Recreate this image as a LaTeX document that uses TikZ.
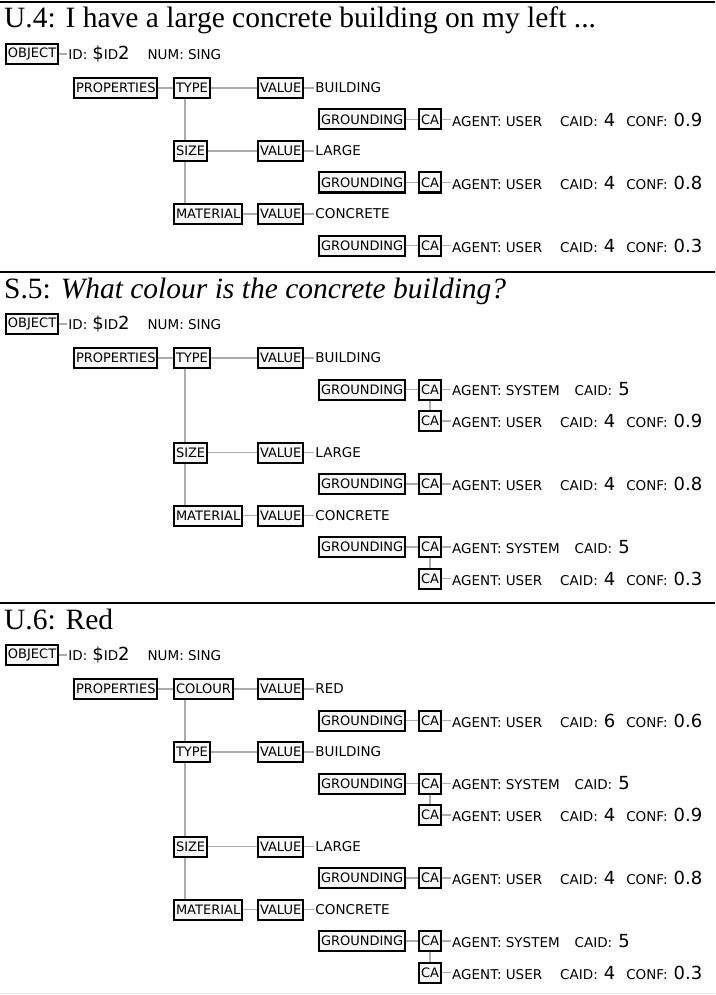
\documentclass[tikz,border=0pt]{standalone}
\usepackage{fontspec}
\setmainfont{DejaVu Sans}
\newfontfamily\titlefont{Liberation Serif}
\usetikzlibrary{positioning}

% small caps and large digits of the value texts
\newcommand{\smtx}[1]{{\fontsize{13.5}{15}\selectfont #1}}
\newcommand{\bgtx}[1]{{\fontsize{18}{20}\selectfont #1}}
\newcommand{\idtext}{\smtx{ID:}\hspace{5pt}\bgtx{\$}\smtx{ID}\bgtx{2}\hspace{18pt}\smtx{NUM: SING}}
\newcommand{\usertext}[2]{\smtx{AGENT: USER}\hspace{18pt}\smtx{CAID:}\hspace{6pt}\bgtx{#1}\hspace{11pt}\smtx{CONF:}\hspace{6pt}\bgtx{#2}}
\newcommand{\systext}{\smtx{AGENT: SYSTEM}\hspace{15pt}\smtx{CAID:}\hspace{6pt}\bgtx{5}}

\tikzset{
  frame/.style={draw, line width=2pt, fill=gray!6, inner sep=2pt, minimum height=20pt, anchor=west, font=\fontsize{13}{15}\selectfont},
  txt/.style={inner sep=1pt, anchor=west},
  conn/.style={draw=gray!65, line width=1.3pt},
  hrule/.style={line width=2.5pt},
  heading/.style={anchor=base west, inner sep=0pt, font=\titlefont\fontsize{29.5}{34}\selectfont}
}

\begin{document}
\begin{tikzpicture}[x=1pt, y=-1pt]
\useasboundingbox (0,0) rectangle (715,995);

% rules between the turns
\draw[hrule] (0,2) -- (715,2);
\draw[hrule] (0,272) -- (715,272);
\draw[hrule] (0,603) -- (715,603);
\draw[gray!20, line width=0.8pt] (0,993) -- (715,993);

% ---------- U.4 ----------
\node[heading] (Ahead) at (4,28) {U.4: I have a large concrete building on my left ...};
\node[frame] (Aobj) at (5,54) {OBJECT};
\node[txt, right=8pt of Aobj] (Aid) {\idtext};
\node[frame] (Aprop) at (73,88) {PROPERTIES};
\node[frame] (Aty) at (173,88) {TYPE};
\node[frame] (Av1) at (257,88) {VALUE};
\node[txt, right=10pt of Av1] (At1) {\smtx{BUILDING}};
\node[frame] (Ag1) at (318,119.5) {GROUNDING};
\node[frame] (Ac1) at (418,119.5) {CA};
\node[txt, right=9pt of Ac1] (Aa1) {\usertext{4}{0.9}};
\node[frame] (Asz) at (173,151) {SIZE};
\node[frame] (Av2) at (257,151) {VALUE};
\node[txt, right=10pt of Av2] (At2) {\smtx{LARGE}};
\node[frame] (Ag2) at (318,182.5) {GROUNDING};
\node[frame] (Ac2) at (418,182.5) {CA};
\node[txt, right=9pt of Ac2] (Aa2) {\usertext{4}{0.8}};
\node[frame] (Ama) at (173,214) {MATERIAL};
\node[frame] (Av3) at (257,214) {VALUE};
\node[txt, right=10pt of Av3] (At3) {\smtx{CONCRETE}};
\node[frame] (Ag3) at (318,245.5) {GROUNDING};
\node[frame] (Ac3) at (418,245.5) {CA};
\node[txt, right=9pt of Ac3] (Aa3) {\usertext{4}{0.3}};

\draw[conn] (Aobj) -- (Aid);
\draw[conn] (Aprop) -- (Aty);
\draw[conn] (Aty) -- (Av1);
\draw[conn] (Asz) -- (Av2);
\draw[conn] (Ama) -- (Av3);
\draw[conn] ([xshift=12pt]Aty.south west) -- ([xshift=12pt]Asz.north west);
\draw[conn] ([xshift=12pt]Asz.south west) -- ([xshift=12pt]Ama.north west);
\draw[conn] (Av1) -- (At1);
\draw[conn] (Av2) -- (At2);
\draw[conn] (Av3) -- (At3);
\draw[conn] (Ag1) -- (Ac1);
\draw[conn] (Ag2) -- (Ac2);
\draw[conn] (Ag3) -- (Ac3);
\draw[conn] (Ac1) -- (Aa1);
\draw[conn] (Ac2) -- (Aa2);
\draw[conn] (Ac3) -- (Aa3);

% ---------- S.5 ----------
\node[heading] (Bhead) at (4,298) {S.5: \textit{What colour is the concrete building?}};
\node[frame] (Bobj) at (5,324) {OBJECT};
\node[txt, right=8pt of Bobj] (Bid) {\idtext};
\node[frame] (Bprop) at (73,358) {PROPERTIES};
\node[frame] (Bty) at (173,358) {TYPE};
\node[frame] (Bv1) at (257,358) {VALUE};
\node[txt, right=10pt of Bv1] (Bt1) {\smtx{BUILDING}};
\node[frame] (Bg1) at (318,389.5) {GROUNDING};
\node[frame] (Bc1) at (418,389.5) {CA};
\node[txt, right=9pt of Bc1] (Ba1) {\systext};
\node[frame] (Bd1) at (418,421) {CA};
\node[txt, right=9pt of Bd1] (Bb1) {\usertext{4}{0.9}};
\node[frame] (Bsz) at (173,452.5) {SIZE};
\node[frame] (Bv2) at (257,452.5) {VALUE};
\node[txt, right=10pt of Bv2] (Bt2) {\smtx{LARGE}};
\node[frame] (Bg2) at (318,484) {GROUNDING};
\node[frame] (Bc2) at (418,484) {CA};
\node[txt, right=9pt of Bc2] (Ba2) {\usertext{4}{0.8}};
\node[frame] (Bma) at (173,515.5) {MATERIAL};
\node[frame] (Bv3) at (257,515.5) {VALUE};
\node[txt, right=10pt of Bv3] (Bt3) {\smtx{CONCRETE}};
\node[frame] (Bg3) at (318,547) {GROUNDING};
\node[frame] (Bc3) at (418,547) {CA};
\node[txt, right=9pt of Bc3] (Ba3) {\systext};
\node[frame] (Bd3) at (418,578.5) {CA};
\node[txt, right=9pt of Bd3] (Bb3) {\usertext{4}{0.3}};

\draw[conn] (Bobj) -- (Bid);
\draw[conn] (Bprop) -- (Bty);
\draw[conn] (Bty) -- (Bv1);
\draw[conn] (Bsz) -- (Bv2);
\draw[conn] (Bma) -- (Bv3);
\draw[conn] ([xshift=12pt]Bty.south west) -- ([xshift=12pt]Bsz.north west);
\draw[conn] ([xshift=12pt]Bsz.south west) -- ([xshift=12pt]Bma.north west);
\draw[conn] (Bv1) -- (Bt1);
\draw[conn] (Bv2) -- (Bt2);
\draw[conn] (Bv3) -- (Bt3);
\draw[conn] (Bg1) -- (Bc1);
\draw[conn] (Bg2) -- (Bc2);
\draw[conn] (Bg3) -- (Bc3);
\draw[conn] (Bc1) -- (Bd1);
\draw[conn] (Bc3) -- (Bd3);
\draw[conn] (Bc1) -- (Ba1);
\draw[conn] (Bd1) -- (Bb1);
\draw[conn] (Bc2) -- (Ba2);
\draw[conn] (Bc3) -- (Ba3);
\draw[conn] (Bd3) -- (Bb3);

% ---------- U.6 ----------
\node[heading] (Chead) at (4,629) {U.6: Red};
\node[frame] (Cobj) at (5,655) {OBJECT};
\node[txt, right=8pt of Cobj] (Cid) {\idtext};
\node[frame] (Cprop) at (73,689) {PROPERTIES};
\node[frame] (Ccol) at (173,689) {COLOUR};
\node[frame] (Cv0) at (257,689) {VALUE};
\node[txt, right=10pt of Cv0] (Ct0) {\smtx{RED}};
\node[frame] (Cg0) at (318,720.5) {GROUNDING};
\node[frame] (Cc0) at (418,720.5) {CA};
\node[txt, right=9pt of Cc0] (Ca0) {\usertext{6}{0.6}};
\node[frame] (Cty) at (173,752) {TYPE};
\node[frame] (Cv1) at (257,752) {VALUE};
\node[txt, right=10pt of Cv1] (Ct1) {\smtx{BUILDING}};
\node[frame] (Cg1) at (318,783.5) {GROUNDING};
\node[frame] (Cc1) at (418,783.5) {CA};
\node[txt, right=9pt of Cc1] (Ca1) {\systext};
\node[frame] (Cd1) at (418,815) {CA};
\node[txt, right=9pt of Cd1] (Cb1) {\usertext{4}{0.9}};
\node[frame] (Csz) at (173,846.5) {SIZE};
\node[frame] (Cv2) at (257,846.5) {VALUE};
\node[txt, right=10pt of Cv2] (Ct2) {\smtx{LARGE}};
\node[frame] (Cg2) at (318,878) {GROUNDING};
\node[frame] (Cc2) at (418,878) {CA};
\node[txt, right=9pt of Cc2] (Ca2) {\usertext{4}{0.8}};
\node[frame] (Cma) at (173,909.5) {MATERIAL};
\node[frame] (Cv3) at (257,909.5) {VALUE};
\node[txt, right=10pt of Cv3] (Ct3) {\smtx{CONCRETE}};
\node[frame] (Cg3) at (318,941) {GROUNDING};
\node[frame] (Cc3) at (418,941) {CA};
\node[txt, right=9pt of Cc3] (Ca3) {\systext};
\node[frame] (Cd3) at (418,972.5) {CA};
\node[txt, right=9pt of Cd3] (Cb3) {\usertext{4}{0.3}};

\draw[conn] (Cobj) -- (Cid);
\draw[conn] (Cprop) -- (Ccol);
\draw[conn] (Ccol) -- (Cv0);
\draw[conn] (Cty) -- (Cv1);
\draw[conn] (Csz) -- (Cv2);
\draw[conn] (Cma) -- (Cv3);
\draw[conn] ([xshift=12pt]Ccol.south west) -- ([xshift=12pt]Cty.north west);
\draw[conn] ([xshift=12pt]Cty.south west) -- ([xshift=12pt]Csz.north west);
\draw[conn] ([xshift=12pt]Csz.south west) -- ([xshift=12pt]Cma.north west);
\draw[conn] (Cv0) -- (Ct0);
\draw[conn] (Cv1) -- (Ct1);
\draw[conn] (Cv2) -- (Ct2);
\draw[conn] (Cv3) -- (Ct3);
\draw[conn] (Cg0) -- (Cc0);
\draw[conn] (Cg1) -- (Cc1);
\draw[conn] (Cg2) -- (Cc2);
\draw[conn] (Cg3) -- (Cc3);
\draw[conn] (Cc1) -- (Cd1);
\draw[conn] (Cc3) -- (Cd3);
\draw[conn] (Cc0) -- (Ca0);
\draw[conn] (Cc1) -- (Ca1);
\draw[conn] (Cd1) -- (Cb1);
\draw[conn] (Cc2) -- (Ca2);
\draw[conn] (Cc3) -- (Ca3);
\draw[conn] (Cd3) -- (Cb3);
\end{tikzpicture}
\end{document}
